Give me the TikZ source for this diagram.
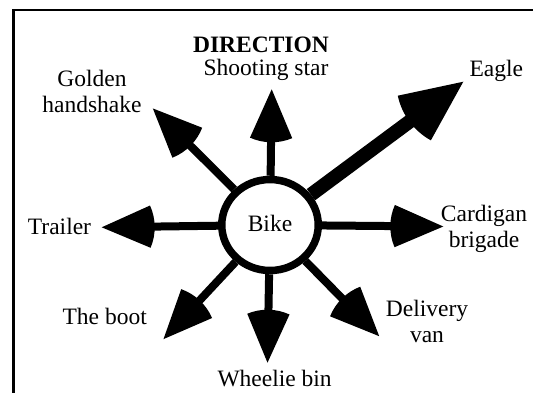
\documentclass[tikz,border=0pt]{standalone}
\usepackage{fontspec}
\setmainfont{Liberation Serif}
\usetikzlibrary{shapes.geometric,decorations.markings}
\tikzset{
  lbl/.style={font=\fontsize{23.5bp}{26bp}\selectfont, inner sep=0pt, align=center},
  shaft/.style={line width=8bp, shorten >=20bp},
  bigshaft/.style={line width=14bp, shorten >=30bp},
  sectorhead/.style 2 args={decoration={markings,
      mark=at position 1 with {\fill (0,0) -- (180-#2:#1) arc[start angle=180-#2, end angle=180+#2, radius=#1] -- cycle;}},
      decorate},
  frameline/.style={line width=2.7bp}
}
\begin{document}
\begin{tikzpicture}[x=1bp,y=-1bp]
\useasboundingbox (0,0) rectangle (533,392);
\draw[frameline] (13.3,420) |- (560,10);

\node[draw, ellipse, line width=7.5bp, minimum width=96.5bp, minimum height=91bp, inner sep=0pt,
      font=\fontsize{23.5bp}{26bp}\selectfont] (bike) at (270,225) {\raisebox{3bp}{Bike}};

% arrow tips
\coordinate (tS) at (271.7,89.3);
\coordinate (tG) at (152.7,108.3);
\coordinate (tE) at (463.3,81.7);
\coordinate (tT) at (101.7,227.3);
\coordinate (tC) at (443.3,226.5);
\coordinate (tB) at (163.3,339.3);
\coordinate (tW) at (267.5,362.7);
\coordinate (tD) at (379.3,336.3);

\foreach \t in {tS,tG,tT,tC,tB,tW,tD}{
  \draw[shaft] (bike) -- (\t);
  \path[sectorhead={53bp}{23.5}] (bike) -- (\t);
}
\draw[bigshaft] (bike) -- (tE);
\path[sectorhead={67bp}{24.5}] (bike) -- (tE);

% labels
\node[lbl, anchor=base, font=\fontsize{23.5bp}{26bp}\selectfont\bfseries] (dir) at (261,52.7) {DIRECTION};
\node[lbl, anchor=base] (lS) at (266,75) {Shooting star};
\node[lbl, anchor=base] (lE) at (496.3,76.7) {Eagle};
\node[lbl] (lG) at (92,91.5) {Golden\\handshake};
\node[lbl, anchor=base] (lT) at (59.5,234) {Trailer};
\node[lbl] (lC) at (484,228.5) {Cardigan\\brigade};
\node[lbl, anchor=base] (lB) at (104.7,324) {The boot};
\node[lbl] (lD) at (427,321) {Delivery\\van};
\node[lbl, anchor=base] (lW) at (274.6,386) {Wheelie bin};
\end{tikzpicture}
\end{document}
